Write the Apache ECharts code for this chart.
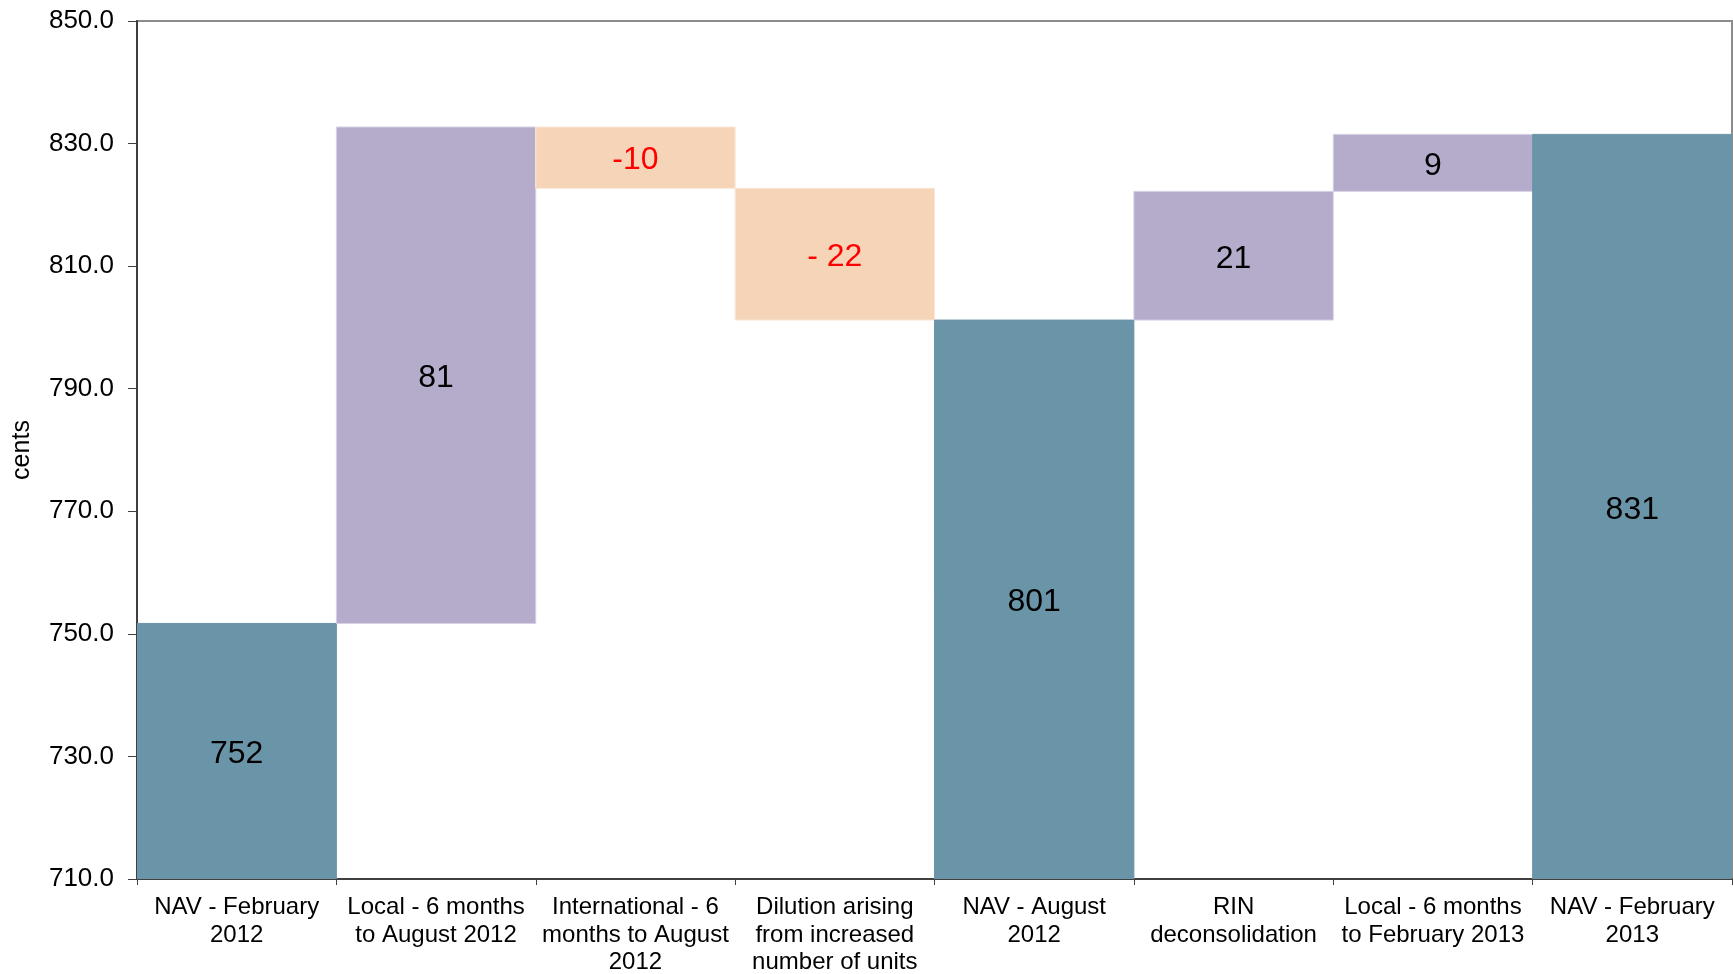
<!DOCTYPE html>
<html>
<head>
<meta charset="utf-8">
<script src="https://cdn.jsdelivr.net/npm/echarts@6/dist/echarts.min.js"></script>
<style>
  html, body { margin: 0; padding: 0; background: #ffffff; }
  #chart { width: 1733px; height: 974px; }
</style>
</head>
<body>
<div id="chart"></div>
<script>
// ---- data ----
const categories = [
  'NAV - February\n2012',
  'Local - 6 months\nto August 2012',
  'International - 6\nmonths to August\n2012',
  'Dilution arising\nfrom increased\nnumber of units',
  'NAV - August\n2012',
  'RIN\ndeconsolidation',
  'Local - 6 months\nto February 2013',
  'NAV - February\n2013'
];
const barBottom = [710, 751.7, 822.7, 801.2, 710, 801.2, 822.2, 710];
const barTop    = [751.7, 832.7, 832.7, 822.7, 801.2, 822.2, 831.5, 831.5];
const barLabels = ['752', '81', '-10', '- 22', '801', '21', '9', '831'];
const barKinds  = ['total', 'up', 'down', 'down', 'total', 'up', 'up', 'total'];
const yTicks = { min: 710, max: 850, interval: 20 };

// ---- styles ----
const FONT = '"Liberation Sans", Arial, Helvetica, sans-serif';
const kindStyle = {
  total: { fill: '#6A94A8', stroke: '#6A94A8', text: '#000000' },
  up:    { fill: '#B5ABCB', stroke: '#D6D0E4', text: '#000000' },
  down:  { fill: '#F5D4B8', stroke: '#FBE7D8', text: '#FF0000' }
};

const seriesData = categories.map((c, i) => [i, barBottom[i], barTop[i]]);

const chart = echarts.init(document.getElementById('chart'), null, { renderer: 'canvas' });
chart.setOption({
  animation: false,
  backgroundColor: '#ffffff',
  grid: {
    left: 137, right: 1, top: 21, bottom: 95,
    containLabel: false,
    outerBoundsMode: 'none',
    show: true, borderColor: '#8C8C8C', borderWidth: 2, backgroundColor: 'transparent'
  },
  xAxis: {
    type: 'category',
    data: categories,
    boundaryGap: true,
    axisLine: { show: true, lineStyle: { color: '#404040', width: 2 } },
    axisTick: { show: true, interval: 0, length: 6, lineStyle: { color: '#404040', width: 1 } },
    axisLabel: {
      interval: 0, margin: 15, color: '#000000',
      fontFamily: FONT, fontSize: 24, lineHeight: 27.5, align: 'center',
      hideOverlap: false
    },
    splitLine: { show: false }
  },
  yAxis: {
    type: 'value',
    min: yTicks.min, max: yTicks.max, interval: yTicks.interval,
    name: 'cents',
    nameLocation: 'middle',
    nameRotate: 90,
    nameGap: 102,
    nameTextStyle: { color: '#000000', fontFamily: FONT, fontSize: 25 },
    axisLine: { show: true, lineStyle: { color: '#404040', width: 2 } },
    axisTick: { show: true, inside: false, length: 9, lineStyle: { color: '#404040', width: 1 } },
    axisLabel: {
      margin: 23, color: '#000000', fontFamily: FONT, fontSize: 26,
      formatter: v => v.toFixed(1)
    },
    splitLine: { show: false }
  },
  series: [{
    type: 'custom',
    clip: true,
    encode: { x: 0, y: [1, 2] },
    data: seriesData,
    renderItem: function (params, api) {
      const i = api.value(0);
      const lo = api.coord([i, api.value(1)]);
      const hi = api.coord([i, api.value(2)]);
      const bw = api.size([1, 0])[0];
      const st = kindStyle[barKinds[i]];
      return {
        type: 'rect',
        shape: { x: lo[0] - bw / 2, y: hi[1], width: bw, height: lo[1] - hi[1] },
        style: { fill: st.fill, stroke: st.stroke, lineWidth: 1 },
        textContent: {
          style: {
            text: barLabels[i], fill: st.text,
            fontFamily: FONT, fontSize: 32
          }
        },
        textConfig: { position: 'inside', offset: [0, 3] }
      };
    }
  }]
});
</script>
</body>
</html>
